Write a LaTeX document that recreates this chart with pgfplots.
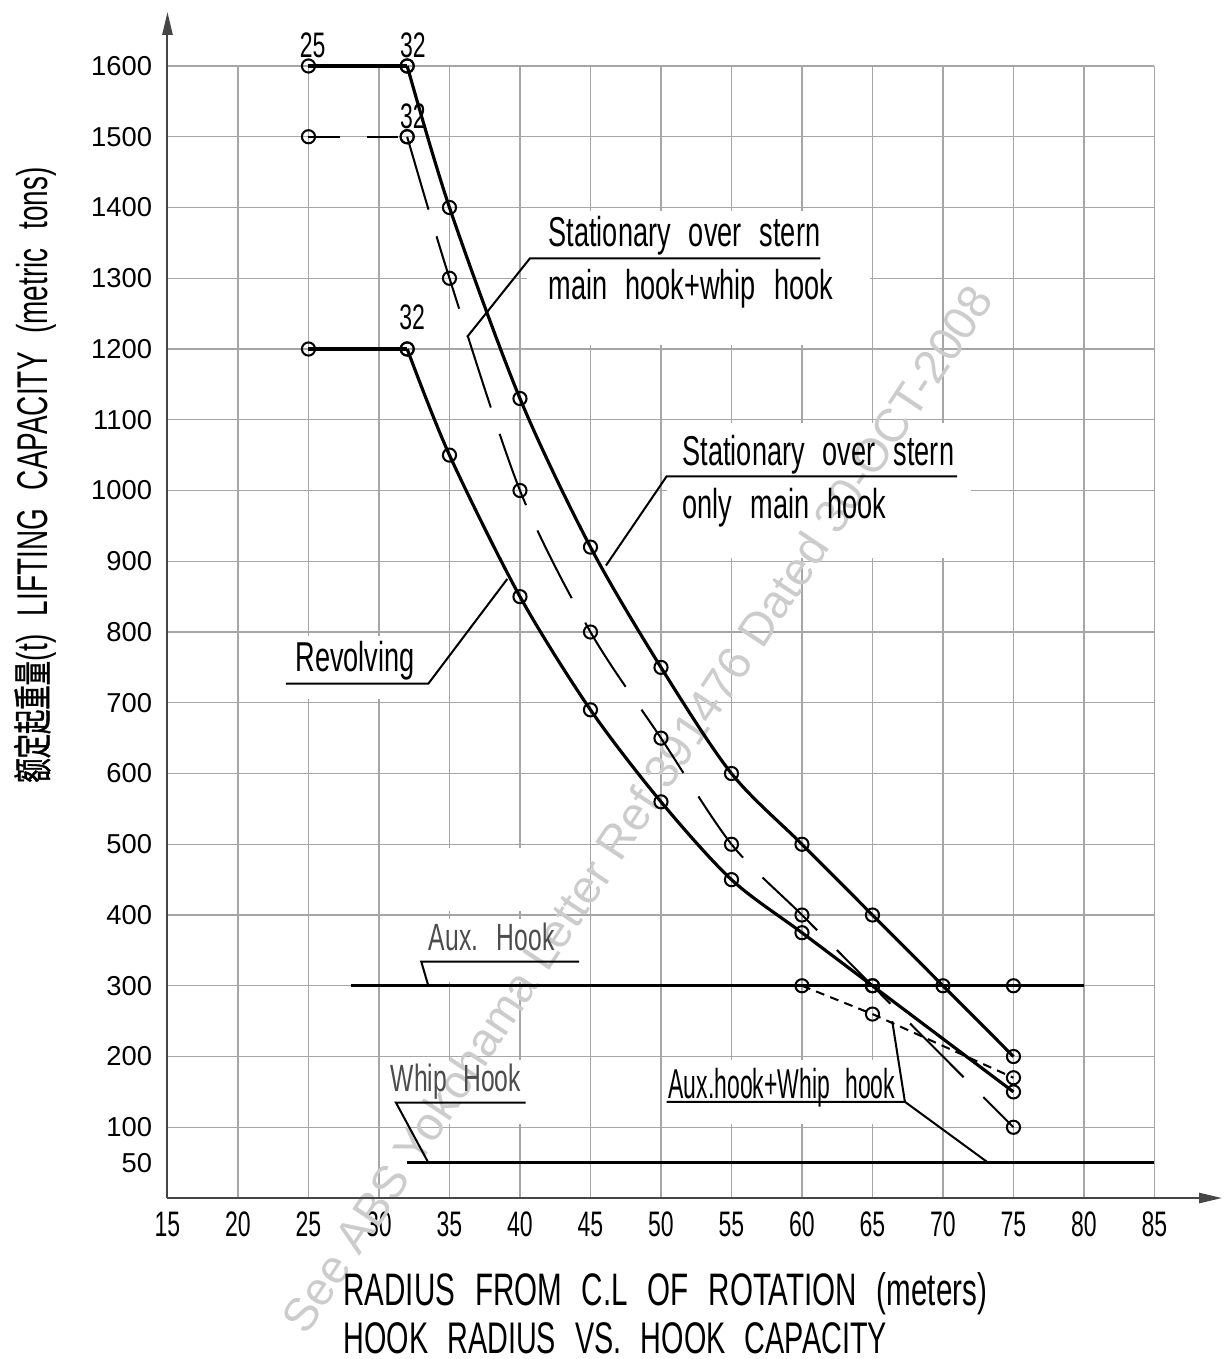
\documentclass[border=0pt]{standalone}
\usepackage{fontspec}
\setmainfont{Liberation Sans}
\newfontfamily\cad[FakeStretch=0.65,WordSpace=2.4]{Liberation Sans}
\newfontfamily\cadn[FakeStretch=0.55,WordSpace=2.4]{Liberation Sans}
\newfontfamily\cjk[FakeStretch=0.62,FakeBold=1]{Noto Sans CJK SC}
\usepackage{pgfplots}
\pgfplotsset{compat=1.18}
\usetikzlibrary{arrows.meta}
\newcommand\fs[1]{\fontsize{#1}{#1}\selectfont}

% main hook + whip hook (stationary over stern)
\pgfplotstableread{
x y
25 1600
32 1600
}\mwflat
\pgfplotstableread{
x y
32 1600
35 1400
40 1130
45 920
50 750
55 600
60 500
65 400
70 300
75 200
}\mwcurve
% only main hook (stationary over stern)
\pgfplotstableread{
x y
25 1500
32 1500
}\moflat
\pgfplotstableread{
x y
32 1500
35 1300
40 1000
45 800
50 650
55 500
60 400
65 300
75 100
}\mocurve
% revolving
\pgfplotstableread{
x y
25 1200
32 1200
}\rvflat
\pgfplotstableread{
x y
32 1200
35 1050
40 850
45 690
50 560
55 450
60 375
65 300
75 150
}\rvcurve
% aux hook + whip hook
\pgfplotstableread{
x y
60 300
65 260
75 170
}\auxwhip

\begin{document}
\begin{tikzpicture}[
  curve/.style={black, line width=1.25pt, mark=o, mark size=2.6pt,
    mark options={solid, line width=0.8pt}},
  leader/.style={black, line width=0.8pt},
  lbl/.style={anchor=base west, inner sep=0pt, font=\cad\fs{16.5}},
  num/.style={anchor=base, inner sep=0pt, font=\cad\fs{14}},
  wipe/.style={fill=white, draw=none},
  ]
\begin{axis}[
  at={(0,0)}, anchor=south west,
  scale only axis, width=13.708cm, height=15.722cm,
  xmin=15, xmax=85, ymin=0, ymax=1600,
  xtick={15,20,...,85},
  ytick={100,200,...,1600},
  extra y ticks={50},
  extra y tick style={grid=none},
  grid=major,
  major grid style={gray!70, line width=0.5pt},
  axis line style={draw=none},
  major tick length=0pt,
  /pgf/number format/assume math mode=true,
  /pgf/number format/1000 sep={},
  xticklabel style={font=\cad\fs{14}, yshift=-2pt},
  yticklabel style={font=\fs{10.8}, xshift=-2.6pt},
  clip=false,
  ]

% areas behind the labels, which break the grid
\fill[wipe] (axis cs:40.5,1205) rectangle (axis cs:64.8,1395);
\fill[wipe] (axis cs:50.4,905) rectangle (axis cs:72,1095);
\fill[wipe] (axis cs:23,705) rectangle (axis cs:34,795);
\fill[wipe] (axis cs:30.5,405) rectangle (axis cs:44.5,495);
\fill[wipe] (axis cs:30.5,305) rectangle (axis cs:44.5,395);
\fill[wipe] (axis cs:30.5,105) rectangle (axis cs:44.5,195);
\fill[wipe] (axis cs:50.5,105) rectangle (axis cs:69.5,195);

% watermark
\node[rotate=56.4, font=\fs{18.5}, text=gray!40] at (axis cs:48.3,550)
  {See ABS Yokohama Letter Ref 391476 Dated 30-OCT-2008};

% axes with arrows
\draw[gray!55!black, line width=0.8pt, -{Triangle[length=9pt,width=4pt]}]
  (rel axis cs:0,0) -- (rel axis cs:1.0684,0);
\draw[gray!55!black, line width=0.8pt, -{Triangle[length=9pt,width=4pt]}]
  (rel axis cs:0,0) -- (rel axis cs:0,1.0477);

% aux hook and whip hook limits
\addplot[black, line width=1.25pt] coordinates {(28,300) (80,300)};
\addplot[black, line width=1.25pt] coordinates {(32,50) (85,50)};
\addplot[curve, only marks] coordinates {(75,300)};

\addplot[curve] table {\mwflat};
\addplot[curve, smooth] table {\mwcurve};
\addplot[curve, line width=0.8pt, dash pattern=on 12.5pt off 10.5pt] table {\moflat};
\addplot[curve, line width=0.8pt, smooth, dash pattern=on 30pt off 11pt] table {\mocurve};
\addplot[curve] table {\rvflat};
\addplot[curve, smooth] table {\rvcurve};
\addplot[curve, line width=0.8pt, dash pattern=on 3.5pt off 2.5pt] table {\auxwhip};

% radius labels
\node[num] at (axis cs:25.3,1612) {25};
\node[num] at (axis cs:32.4,1612) {32};
\node[num] at (axis cs:32.4,1511) {32};
\node[num] at (axis cs:32.35,1227) {32};

% labels with leaders
\node[lbl] at (axis cs:42.0,1345) {Stationary over stern};
\node[lbl] at (axis cs:42.0,1270) {main hook+whip hook};
\draw[leader] (axis cs:61.3,1328) -- (axis cs:40.7,1328) -- (axis cs:36.25,1217);

\node[lbl] at (axis cs:51.5,1036) {Stationary over stern};
\node[lbl] at (axis cs:51.5,961) {only main hook};
\draw[leader] (axis cs:71.0,1020) -- (axis cs:50.4,1020) -- (axis cs:46.1,894);

\node[lbl] at (axis cs:24.05,744) {Revolving};
\draw[leader] (axis cs:23.4,727) -- (axis cs:33.5,727) -- (axis cs:39.1,875);

\node[lbl, font=\cad\fs{15}, text=gray!60!black] at (axis cs:33.5,350) {Aux. Hook};
\draw[leader] (axis cs:44.2,334) -- (axis cs:33,334) -- (axis cs:33.5,300);

\node[lbl, font=\cad\fs{15}, text=gray!60!black] at (axis cs:30.8,150) {Whip Hook};
\draw[leader] (axis cs:40.4,135) -- (axis cs:31.2,135) -- (axis cs:33.5,50);

\node[lbl, font=\cadn\fs{16.5}] at (axis cs:50.5,141) {Aux.hook+Whip hook};
\draw[leader] (axis cs:50.4,136) -- (axis cs:67.3,136) -- (axis cs:66.4,250);
\draw[leader] (axis cs:67.3,136) -- (axis cs:73.2,50);

% axis titles
\node[anchor=base west, inner sep=0pt, font=\cad\fs{18}] at (rel axis cs:0.1778,-0.0945)
  {RADIUS FROM C.L OF ROTATION (meters)};
\node[anchor=base west, inner sep=0pt, font=\cad\fs{17.5}] at (rel axis cs:0.1778,-0.1369)
  {HOOK RADIUS VS. HOOK CAPACITY};
\node[rotate=90, anchor=east, inner sep=0pt] at (rel axis cs:-0.1342,0.9108)
  {{\cjk\fs{15.5}额定起重量}{\cad\fs{17}(t) LIFTING CAPACITY (metric tons)}};

% page frame
\path (rel axis cs:-0.1697,-0.1422) rectangle (rel axis cs:1.0705,1.0583);
\end{axis}
\end{tikzpicture}
\end{document}
